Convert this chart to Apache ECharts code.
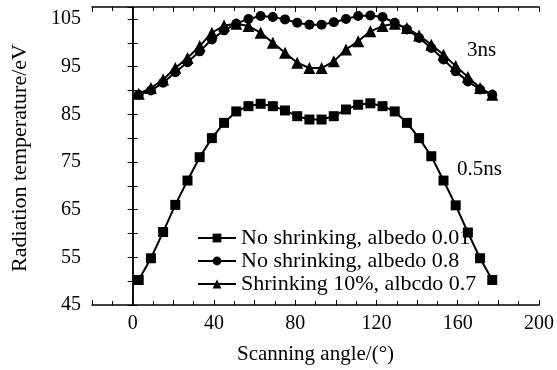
<!DOCTYPE html>
<html><head><meta charset="utf-8">
<script src="https://cdn.jsdelivr.net/npm/echarts@6/dist/echarts.min.js"></script>
<style>html,body{margin:0;padding:0;background:#fff}#c{width:557px;height:370px}</style>
</head><body><div id="c"></div>
<script>
var angles = [3,9,15,21,27,33,39,45,51,57,63,69,75,81,87,93,99,105,111,117,123,129,135,141,147,153,159,165,171,177];
var albedo001 = [50.25,54.8,60.3,66.0,71.1,76.0,80.0,83.2,85.6,86.7,87.2,86.7,85.8,84.6,83.9,83.9,84.6,86.0,87.0,87.3,86.7,85.6,83.2,80.0,76.2,71.1,65.9,60.2,54.8,50.25];
var albedo08 = [89.1,90.0,91.6,93.8,95.9,98.2,100.7,102.6,104.0,105.0,105.6,105.4,104.9,104.2,103.8,103.8,104.3,105.0,105.6,105.7,105.4,104.2,102.8,101.0,98.9,96.5,94.0,91.9,90.2,89.1];
var shrink07 = [89.3,90.5,92.3,94.7,96.8,99.3,102.1,103.6,104.0,103.5,102.1,100.0,97.9,95.8,94.7,94.7,96.1,98.6,100.3,102.4,103.5,104.0,103.1,101.5,99.6,97.5,95.1,92.8,90.5,89.1];
var seriesNames = ['No shrinking, albedo 0.01','No shrinking, albedo 0.8','Shrinking 10%, albcdo 0.7'];
var xLabels = [0,40,80,120,160,200];
var yLabels = [45,55,65,75,85,95,105];
var yTitle = 'Radiation temperature/eV';

function pairs(ys){ return angles.map(function(a,i){ return [a, ys[i]]; }); }
var FONT = 'Liberation Serif';
var chart = echarts.init(document.getElementById('c'));
var axisLine = {show:true, lineStyle:{color:'#000', width:1.5}};
var tick = {show:true, inside:true, length:5, lineStyle:{color:'#000', width:1}};
var minor = {show:true, splitNumber:2, length:4, lineStyle:{color:'#000', width:1}};
function mkSeries(name, ys, sym, size){
  return {name:name, type:'line', data:pairs(ys), symbol:sym, symbolSize:size,
    showSymbol:true, itemStyle:{color:'#000'}, lineStyle:{color:'#000', width:2}, z:3};
}
chart.setOption({
  animation:false,
  backgroundColor:'#fff',
  grid:{left:92, right:15, top:7, bottom:65},
  legend:{
    orient:'vertical', left:192, top:222, itemWidth:38, itemHeight:11, itemGap:1,
    data:seriesNames,
    textStyle:{fontFamily:FONT, fontSize:22, color:'#000'}
  },
  xAxis:[{
    type:'value', min:-20, max:200, interval:20,
    axisLine:axisLine, axisTick:tick, minorTick:minor, splitLine:{show:false},
    axisLabel:{fontFamily:FONT, fontSize:20, color:'#000', margin:9,
      formatter:function(v){ return xLabels.indexOf(v) >= 0 ? String(v) : ''; }},
    name:'Scanning angle/(°)', nameLocation:'middle', nameGap:39,
    nameTextStyle:{fontFamily:FONT, fontSize:21, color:'#000'}
  },{
    type:'value', position:'top', min:-20, max:200, interval:20,
    axisLine:axisLine, axisTick:tick, minorTick:minor, splitLine:{show:false},
    axisLabel:{show:false}
  }],
  yAxis:[{
    type:'value', min:45, max:107.5, interval:5,
    axisLine:axisLine, axisTick:tick, splitLine:{show:false},
    axisLabel:{fontFamily:FONT, fontSize:20, color:'#000', margin:11, showMaxLabel:false,
      formatter:function(v){ return yLabels.indexOf(v) >= 0 ? String(v) : ''; }}
  },{
    type:'value', position:'right', min:45, max:107.5, interval:5,
    axisLine:axisLine, axisTick:tick, splitLine:{show:false}, axisLabel:{show:false}
  }],
  graphic:[
    {type:'text', x:20, y:158, rotation:Math.PI/2,
      style:{text:yTitle, fontFamily:FONT, fontSize:22, fill:'#000', align:'center', verticalAlign:'middle'}},
    {type:'text', left:467, top:40, style:{text:'3ns', fontFamily:FONT, fontSize:21, fill:'#000'}},
    {type:'text', left:457, top:159, style:{text:'0.5ns', fontFamily:FONT, fontSize:21, fill:'#000'}}
  ],
  series:[
    mkSeries(seriesNames[0], albedo001, 'rect', 10),
    mkSeries(seriesNames[1], albedo08, 'circle', 10),
    mkSeries(seriesNames[2], shrink07, 'triangle', 12)
  ]
});
</script></body></html>
